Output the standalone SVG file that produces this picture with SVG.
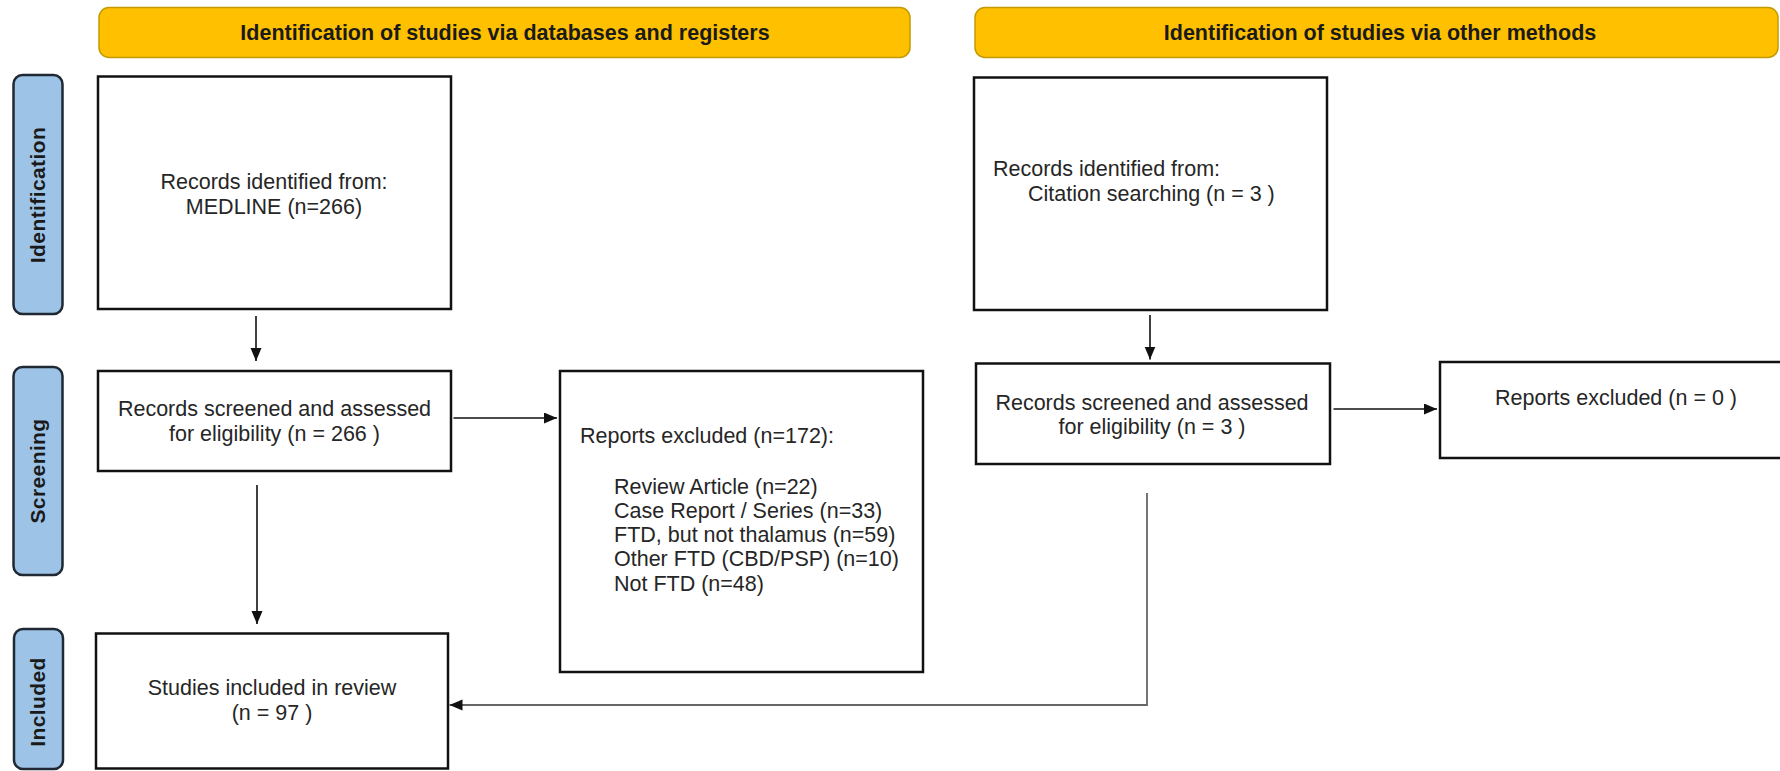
<svg xmlns="http://www.w3.org/2000/svg" width="1780" height="771" viewBox="0 0 1780 771">
<style>
.banner{fill:#FFC000;stroke:#C49A00;stroke-width:1.5}
.bt{font-family:"Liberation Sans",Arial,sans-serif;font-weight:bold;font-size:21.5px;fill:#1a1a1a;text-anchor:middle}
.side{fill:#9DC3E6;stroke:#1F2833;stroke-width:2.5}
.st{font-family:"Liberation Sans",Arial,sans-serif;font-weight:bold;font-size:21px;fill:#1a1a1a;text-anchor:middle;letter-spacing:0.4px}
.box{fill:#fff;stroke:#111;stroke-width:2.5}
.t{font-family:"Liberation Sans",Arial,sans-serif;font-size:21.5px;fill:#262626}
.m{text-anchor:middle}
.c{fill:none;stroke:#111;stroke-width:1.6}
.g{fill:none;stroke:#666;stroke-width:1.8}
</style>
<defs>
<marker id="ah" markerUnits="userSpaceOnUse" markerWidth="14" markerHeight="12" refX="13" refY="5.5" orient="auto">
<path d="M0,0 L13,5.5 L0,11 Z" fill="#111"/>
</marker>
</defs>
<rect width="1780" height="771" fill="#fff"/>
<g id="banner-databases">
<rect class="banner" x="99" y="7.5" width="811" height="50" rx="10"/>
<text class="bt" x="505" y="40">Identification of studies via databases and registers</text>
</g>
<g id="banner-other">
<rect class="banner" x="975" y="7.5" width="803" height="50" rx="10"/>
<text class="bt" x="1380" y="40">Identification of studies via other methods</text>
</g>
<g id="label-identification">
<rect class="side" x="13.5" y="75" width="49" height="239" rx="9"/>
<text class="st" transform="translate(45,195) rotate(-90)">Identification</text>
</g>
<g id="label-screening">
<rect class="side" x="13.5" y="367" width="49" height="208" rx="9"/>
<text class="st" transform="translate(45,471) rotate(-90)">Screening</text>
</g>
<g id="label-included">
<rect class="side" x="14" y="629" width="49" height="140" rx="9"/>
<text class="st" transform="translate(45,702) rotate(-90)">Included</text>
</g>
<g id="records-medline">
<rect class="box" x="98" y="76.5" width="353" height="232.5"/>
<text class="t m" x="274" y="189" font-size="22">Records identified from:</text>
<text class="t m" x="274" y="214" font-size="22">MEDLINE (n=266)</text>
</g>
<g id="screened-db">
<rect class="box" x="98" y="371" width="353" height="100"/>
<text class="t m" x="274.5" y="416">Records screened and assessed</text>
<text class="t m" x="274.5" y="441">for eligibility (n = 266 )</text>
</g>
<g id="excluded-db">
<rect class="box" x="560" y="371" width="363" height="301"/>
<text class="t" x="580" y="443">Reports excluded (n=172):</text>
<text class="t" x="614" y="493.5">Review Article (n=22)</text>
<text class="t" x="614" y="517.8">Case Report / Series (n=33)</text>
<text class="t" x="614" y="542">FTD, but not thalamus (n=59)</text>
<text class="t" x="614" y="566.3">Other FTD (CBD/PSP) (n=10)</text>
<text class="t" x="614" y="590.6">Not FTD (n=48)</text>
</g>
<g id="included">
<rect class="box" x="96" y="633.5" width="352" height="135"/>
<text class="t m" x="272" y="695">Studies included in review</text>
<text class="t m" x="272" y="720">(n = 97 )</text>
</g>
<g id="records-citation">
<rect class="box" x="974" y="77.5" width="353" height="232.5"/>
<text class="t" x="993" y="176">Records identified from:</text>
<text class="t" x="1028" y="201">Citation searching (n = 3 )</text>
</g>
<g id="screened-other">
<rect class="box" x="976" y="363.5" width="354" height="100.5"/>
<text class="t m" x="1152" y="410">Records screened and assessed</text>
<text class="t m" x="1152" y="434">for eligibility (n = 3 )</text>
</g>
<g id="excluded-other">
<rect class="box" x="1440" y="362" width="360" height="96"/>
<text class="t" x="1495" y="405">Reports excluded (n = 0 )</text>
</g>
<g id="connectors">
<line class="c" x1="256" y1="316" x2="256" y2="361" marker-end="url(#ah)"/>
<line class="c" x1="453.5" y1="418" x2="557" y2="418" marker-end="url(#ah)"/>
<line class="c" x1="257" y1="485" x2="257" y2="624" marker-end="url(#ah)"/>
<line class="c" x1="1150" y1="315" x2="1150" y2="359.5" marker-end="url(#ah)"/>
<line class="c" x1="1333.5" y1="409" x2="1437" y2="409" marker-end="url(#ah)"/>
<polyline class="g" points="1147,493 1147,705 449.5,705" marker-end="url(#ah)"/>
</g>
</svg>
